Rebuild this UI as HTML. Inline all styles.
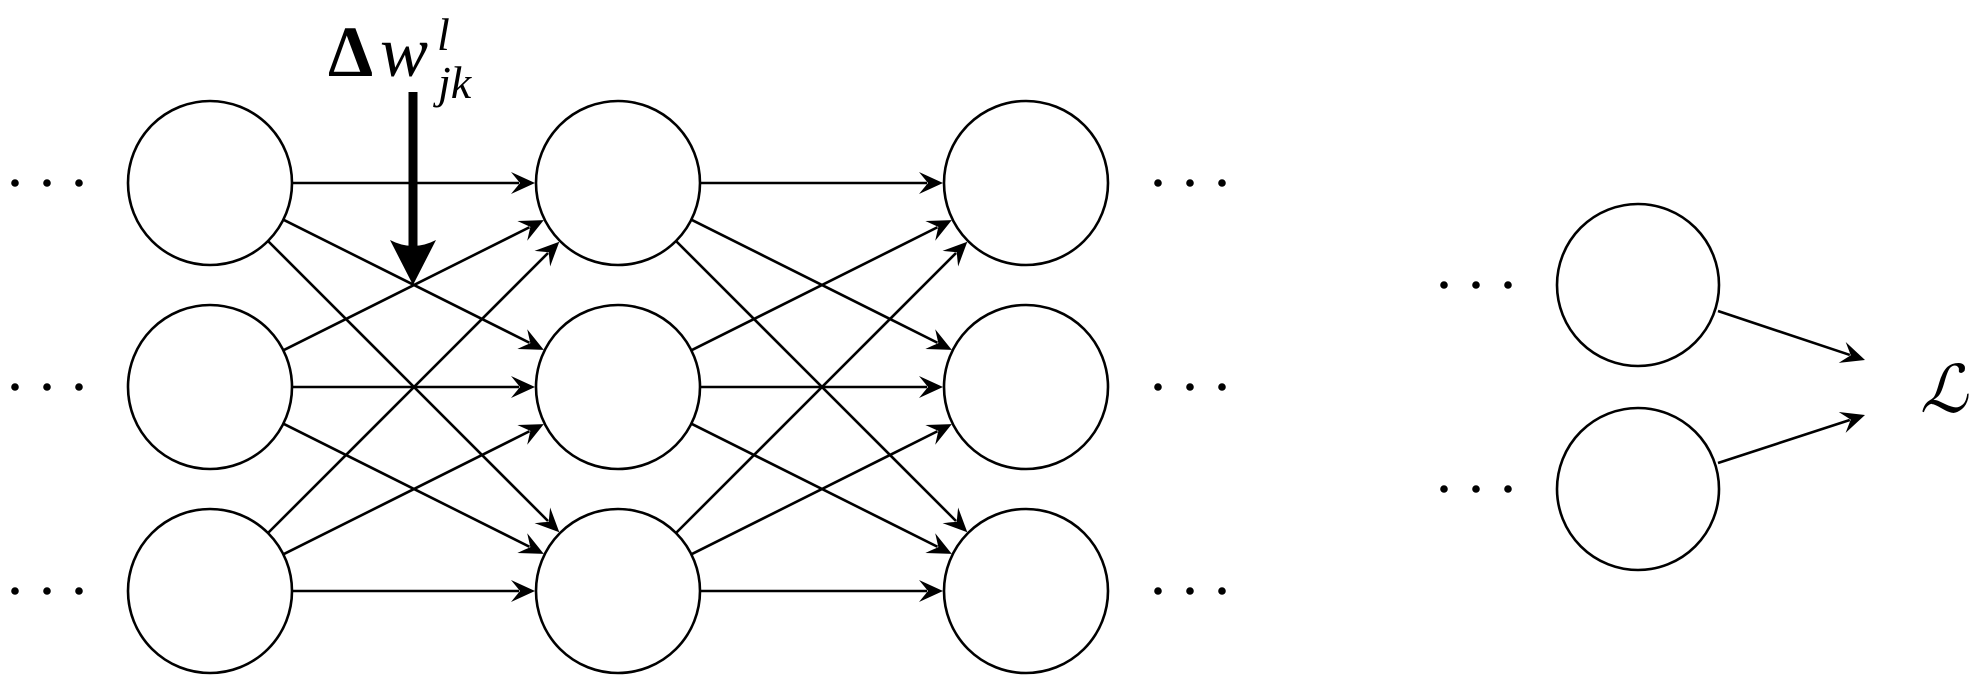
<!DOCTYPE html>
<html><head><meta charset="utf-8"><style>
html,body{margin:0;padding:0;background:#fff;width:1977px;height:680px;overflow:hidden}
svg{display:block}
text{font-family:"Liberation Serif",serif;}
</style></head><body>
<svg id="s" width="1977" height="680" viewBox="0 0 1977 680" xmlns="http://www.w3.org/2000/svg">
<text x="328" y="76" font-size="72" font-family="Liberation Serif, serif" font-weight="bold" fill="#000">Δ</text>
<text x="380" y="76" font-size="72" font-style="italic" font-family="Liberation Serif, serif" fill="#000">w</text>
<text x="437" y="50" font-size="46" font-style="italic" font-family="Liberation Serif, serif" fill="#000">l</text>
<text x="438" y="98" font-size="46" font-style="italic" font-family="Liberation Serif, serif" fill="#000">jk</text>
<text x="1920" y="412" font-size="66" font-style="italic" font-family="DejaVu Serif, serif" fill="#000">ℒ</text>
<rect x="408.5" y="92" width="9" height="160" fill="#000"/>
<path d="M413 285 L390 240 Q413 252 436 240 Z" fill="#000"/>
</svg>
<script>
var s=document.getElementById('s'),NS='http://www.w3.org/2000/svg';
function el(t,a){var e=document.createElementNS(NS,t);for(var k in a)e.setAttribute(k,a[k]);s.appendChild(e);return e;}
var R=82,cols=[210,618,1026],rows=[183,387,591];
function arrow(x1,y1,x2,y2){
 var dx=x2-x1,dy=y2-y1,L=Math.hypot(dx,dy),ux=dx/L,uy=dy/L;
 var bx=x2-ux*16,by=y2-uy*16;
 el('line',{x1:x1,y1:y1,x2:bx,y2:by,stroke:'#000','stroke-width':2.6});
 var px=-uy,py=ux,hl=24,hw=11;
 var ax=x2-ux*hl+px*hw,ay=y2-uy*hl+py*hw,cx=x2-ux*hl-px*hw,cy=y2-uy*hl-py*hw;
 var nx=x2-ux*15,ny=y2-uy*15;
 el('path',{d:'M'+x2+' '+y2+' L'+ax+' '+ay+' Q'+nx+' '+ny+' '+nx+' '+ny+' L'+cx+' '+cy+' Z',fill:'#000'});
}
function edge(xa,ya,xb,yb,r2){
 var dx=xb-xa,dy=yb-ya,L=Math.hypot(dx,dy),ux=dx/L,uy=dy/L;
 arrow(xa+ux*R,ya+uy*R,xb-ux*r2,yb-uy*r2);
}
for(var c=0;c<2;c++)for(var i=0;i<3;i++)for(var j=0;j<3;j++)edge(cols[c],rows[i],cols[c+1],rows[j],R+1);
arrow(1718,311,1865,360);arrow(1718,463,1865,415);
for(var c=0;c<3;c++)for(var i=0;i<3;i++)el('circle',{cx:cols[c],cy:rows[i],r:R,fill:'#fff',stroke:'#000','stroke-width':2.6});
[285,489].forEach(function(y){el('circle',{cx:1638,cy:y,r:81,fill:'#fff',stroke:'#000','stroke-width':2.6});});
function dots(x,y){for(var k=0;k<3;k++)el('circle',{cx:x+k*32,cy:y,r:3.8,fill:'#000'});}
rows.forEach(function(y){dots(15,y);dots(1158,y);});
[285,489].forEach(function(y){dots(1444,y);});
var r=s.querySelector('rect'),p=s.querySelectorAll('path')[0];
s.appendChild(r);s.appendChild(p);
</script>
</body></html>
